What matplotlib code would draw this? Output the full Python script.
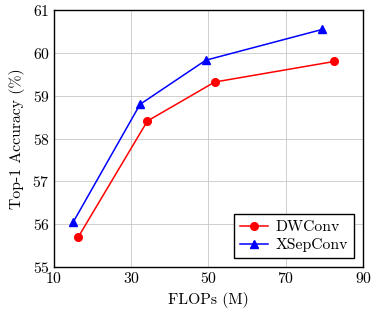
import matplotlib
matplotlib.use("Agg")
import matplotlib.pyplot as plt

dw_flops = [16.3, 34.2, 51.6, 82.5]
dw_acc = [55.70, 58.41, 59.32, 59.80]
xs_flops = [15.0, 32.3, 49.3, 79.5]
xs_acc = [56.05, 58.80, 59.83, 60.55]
xticks = [10, 30, 50, 70, 90]
yticks = [55, 56, 57, 58, 59, 60, 61]

plt.rcParams['font.family'] = ['cmr10', 'DejaVu Serif']
plt.rcParams['axes.formatter.use_mathtext'] = True
plt.rcParams['mathtext.fontset'] = 'cm'

fs = 11.3
fig = plt.figure(figsize=(3.77, 3.16), dpi=100)
ax = fig.add_axes([0.143, 0.155, 0.820, 0.813])
ax.plot(dw_flops, dw_acc, color='red', marker='o', markersize=5.5, linewidth=1.1, label='DWConv')
ax.plot(xs_flops, xs_acc, color='blue', marker='^', markersize=5.5, linewidth=1.1, label='XSepConv')
ax.set_xlim(10, 90)
ax.set_ylim(55, 61)
ax.set_xticks(xticks)
ax.set_yticks(yticks)
ax.grid(True, color='#c8c8c8', linewidth=0.6)
ax.set_axisbelow(True)
ax.tick_params(length=0, labelsize=fs, pad=3)
for s in ax.spines.values():
    s.set_linewidth(1.0)
ax.set_xlabel('FLOPs (M)', fontsize=fs, labelpad=4)
ax.set_ylabel('Top-1 Accuracy (%)', fontsize=fs, labelpad=5)
leg = ax.legend(loc='lower right', fontsize=fs, fancybox=False, edgecolor='black', framealpha=1,
                handlelength=1.75, borderaxespad=0.55, labelspacing=0.25, handletextpad=0.5,
                borderpad=0.4)
leg.get_frame().set_linewidth(1.0)
fig.savefig('out.png', dpi=100)
